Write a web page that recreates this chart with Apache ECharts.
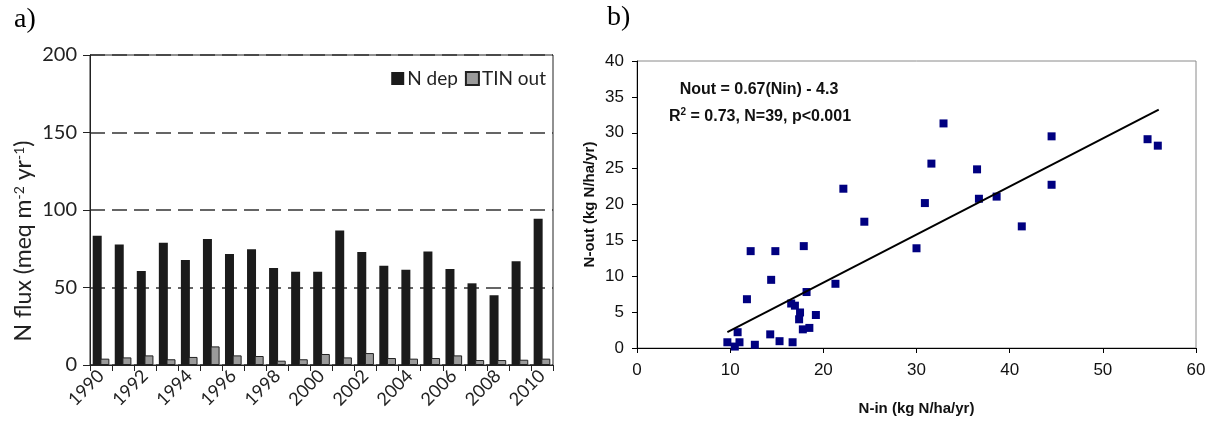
<!DOCTYPE html>
<html><head><meta charset="utf-8">
<script src="https://cdn.jsdelivr.net/npm/echarts@6/dist/echarts.min.js"></script>
<style>html,body{margin:0;padding:0;background:#fff}#c{width:1215px;height:421px}</style>
</head><body><div id="c"></div>
<script>
// ---- panel a) data ----
const years = ['1990','1991','1992','1993','1994','1995','1996','1997','1998','1999','2000','2001','2002','2003','2004','2005','2006','2007','2008','2009','2010'];
const nDep = [83.4,77.8,60.6,78.9,67.7,81.3,71.6,74.6,62.6,60.2,60.2,86.7,72.9,64.1,61.5,73.3,61.9,52.7,45.0,66.9,94.4];
const tinOut = [4.1,4.9,6.2,3.7,5.2,12.0,6.2,5.8,2.8,3.7,7.1,4.9,7.7,4.5,4.1,4.5,6.2,3.2,3.2,3.4,4.1];
const fluxTicks = [0,50,100,150,200];

// ---- panel b) data ----
const nIn  = [9.7,10.5,11.0,10.8,11.8,12.2,12.65,14.3,14.4,14.85,15.3,16.55,16.7,16.95,17.5,17.4,17.8,17.9,18.2,18.5,19.2,21.3,22.15,24.4,30.0,30.9,31.6,32.9,36.5,36.7,38.6,41.3,44.5,44.5,54.8,55.9];
const nOut = [0.8,0.2,0.8,2.2,6.8,13.5,0.45,1.9,9.5,13.5,0.95,6.2,0.8,5.9,4.95,4.0,2.6,14.2,7.8,2.8,4.6,8.95,22.2,17.6,13.9,20.2,25.7,31.3,24.9,20.8,21.1,16.95,29.5,22.75,29.1,28.2];
const fitSlope = [0.67];
const fitIntercept = [-4.3];
const fitRange = [9.7, 56];

const fitData = fitRange.map(x => [x, fitSlope[0] * x + fitIntercept[0]]);
const scatterData = nIn.map((x, i) => [x, nOut[i]]);

const chart = echarts.init(document.getElementById('c'));
const gill = 'Lato, "Open Sans", sans-serif';
const arial = '"Liberation Sans", Arial, sans-serif';

chart.setOption({
  animation: false,
  backgroundColor: '#fff',
  grid: [
    {left: 90, top: 55, width: 463, height: 310, show: true, borderColor: '#222', borderWidth: 1, backgroundColor: 'transparent'},
    {left: 637, top: 61, width: 559, height: 288, show: true, borderColor: '#8a8a8a', borderWidth: 1, backgroundColor: 'transparent'}
  ],
  legend: {
    data: ['N dep', 'TIN out'],
    right: 664, top: 64,
    itemWidth: 13, itemHeight: 13, itemGap: 7,
    textStyle: {fontFamily: gill, fontSize: 19, color: '#222', padding: [0,0,0,-2]},
    icon: 'rect'
  },
  xAxis: [
    {
      gridIndex: 0, type: 'category', data: years, boundaryGap: true,
      axisLine: {lineStyle: {color: '#222', width: 1}},
      axisTick: {show: true, interval: 0, length: 6, lineStyle: {color: '#222'}},
      axisLabel: {interval: 1, rotate: 45, fontFamily: gill, fontSize: 18, color: '#222', margin: 8},
      splitLine: {show: false}
    },
    {
      gridIndex: 1, type: 'value', min: 0, max: 60, interval: 10,
      axisLine: {lineStyle: {color: '#000', width: 1}},
      axisTick: {show: true, length: 5, lineStyle: {color: '#000'}},
      axisLabel: {fontFamily: arial, fontSize: 17, color: '#111', margin: 14},
      splitLine: {show: false},
      name: 'N-in (kg N/ha/yr)', nameLocation: 'middle', nameGap: 53,
      nameTextStyle: {fontFamily: arial, fontSize: 15, fontWeight: 'bold', color: '#111'}
    }
  ],
  yAxis: [
    {
      gridIndex: 0, type: 'value', min: fluxTicks[0], max: fluxTicks[fluxTicks.length-1], interval: 50,
      axisLine: {show: true, lineStyle: {color: '#222', width: 1}},
      axisTick: {show: true, length: 7, lineStyle: {color: '#222'}},
      axisLabel: {fontFamily: gill, fontSize: 20, color: '#222', margin: 13},
      splitLine: {show: true, lineStyle: {type: [15, 7], color: '#333', width: 1.6}}
    },
    {
      gridIndex: 1, type: 'value', min: 0, max: 40, interval: 5,
      axisLine: {show: true, lineStyle: {color: '#000', width: 1}},
      axisTick: {show: true, length: 5, lineStyle: {color: '#000'}},
      axisLabel: {fontFamily: arial, fontSize: 17, color: '#111', margin: 13},
      splitLine: {show: false},
      name: 'N-out (kg N/ha/yr)', nameLocation: 'middle', nameGap: 40,
      nameTextStyle: {fontFamily: arial, fontSize: 15, fontWeight: 'bold', color: '#111'}
    }
  ],
  series: [
    {
      name: 'N dep', type: 'bar', xAxisIndex: 0, yAxisIndex: 0, data: nDep,
      barWidth: 9, barGap: '-15%',
      itemStyle: {color: '#1b1b1b'}
    },
    {
      name: 'TIN out', type: 'bar', xAxisIndex: 0, yAxisIndex: 0, data: tinOut,
      barWidth: 9,
      itemStyle: {color: '#9b9b9b', borderColor: '#222', borderWidth: 1}
    },
    {
      name: 'obs', type: 'scatter', xAxisIndex: 1, yAxisIndex: 1, data: scatterData,
      symbol: 'rect', symbolSize: 8, itemStyle: {color: '#000080', opacity: 1}, z: 3
    },
    {
      name: 'fit', type: 'line', xAxisIndex: 1, yAxisIndex: 1, data: fitData,
      symbol: 'none', lineStyle: {color: '#000', width: 2}, z: 4
    }
  ],
  graphic: [
    {type: 'text', left: 14, top: 6, style: {text: 'a)', font: '28px "Liberation Serif", "Times New Roman", serif', fill: '#000'}},
    {type: 'text', left: 607, top: 4, style: {text: 'b)', font: '28px "Liberation Serif", "Times New Roman", serif', fill: '#000'}},
    {type: 'text', x: 24, y: 241, rotation: Math.PI / 2,
      style: {
        text: 'N flux (meq m{sup|-2} yr{sup|-1})',
        fontFamily: gill, fontSize: 23, fill: '#222',
        align: 'center', verticalAlign: 'middle', textAlign: 'center', textVerticalAlign: 'middle',
        rich: {sup: {fontFamily: gill, fontSize: 14, fill: '#222', padding: [0, 0, 10, 0]}}
      }},
    {type: 'text', x: 759, y: 90,
      style: {text: 'Nout = 0.67(Nin) - 4.3', fontFamily: arial, fontSize: 16, fontWeight: 'bold', fill: '#111',
        align: 'center', verticalAlign: 'middle', textAlign: 'center', textVerticalAlign: 'middle'}},
    {type: 'text', x: 760, y: 117,
      style: {text: 'R{sup|2} = 0.73, N=39, p<0.001', fontFamily: arial, fontSize: 16, fontWeight: 'bold', fill: '#111',
        align: 'center', verticalAlign: 'middle', textAlign: 'center', textVerticalAlign: 'middle',
        rich: {sup: {fontFamily: arial, fontSize: 10, fontWeight: 'bold', fill: '#111', padding: [0, 0, 9, 0]}}}}
  ]
});
</script></body></html>
